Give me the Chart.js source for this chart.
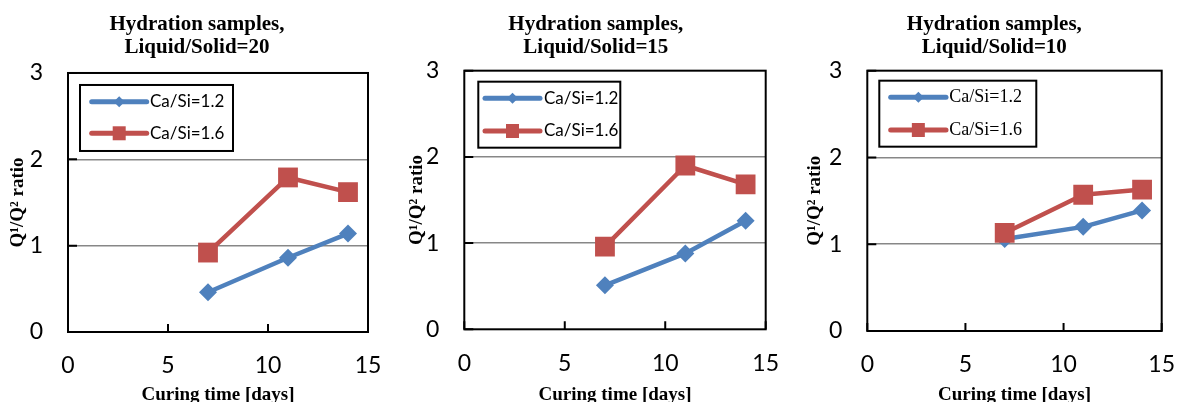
<!DOCTYPE html>
<html>
<head>
<meta charset="utf-8">
<script src="https://cdn.jsdelivr.net/npm/chart.js@4"></script>
<style>
  html, body { margin: 0; padding: 0; background: #fff; }
  body { width: 1177px; height: 402px; position: relative; overflow: hidden; }
  .panel { position: absolute; top: 0; height: 402px; }
</style>
</head>
<body>
<div class="panel" style="left:0px;width:390px"><canvas id="c20" width="390" height="402"></canvas></div>
<div class="panel" style="left:390px;width:398px"><canvas id="c15" width="398" height="402"></canvas></div>
<div class="panel" style="left:790px;width:387px"><canvas id="c10" width="387" height="402"></canvas></div>
<script>
// curing time (days) and Q1/Q2 ratio per liquid/solid ratio
const days = [7, 11, 14];
const ls20_ca12 = [0.46, 0.86, 1.14];
const ls20_ca16 = [0.92, 1.79, 1.62];
const ls15_ca12 = [0.51, 0.88, 1.26];
const ls15_ca16 = [0.96, 1.90, 1.68];
const ls10_ca12 = [1.06, 1.20, 1.39];
const ls10_ca16 = [1.13, 1.57, 1.63];
const seriesNames = ['Ca/Si=1.2', 'Ca/Si=1.6'];
const titleTop = 'Hydration samples,';
const xTitle = 'Curing time [days]';
const yTitle = 'Q\u00b9/Q\u00b2 ratio';

const blue = '#4F81BD', red = '#C0504D';
const serif = "'Liberation Serif', 'Times New Roman', serif";
const sans = "Lato, 'Noto Sans', sans-serif";

Chart.defaults.color = '#000';

function pts(ys) {
  return days.map((d, i) => ({x: d, y: ys[i]}));
}

// black plot frame + small inward tick marks
const framePlugin = {
  id: 'frame',
  beforeDatasetsDraw(chart) {
    const {ctx, chartArea: a, scales: {x, y}} = chart;
    ctx.save();
    ctx.strokeStyle = '#000';
    ctx.lineWidth = 2;
    ctx.strokeRect(a.left, a.top, a.right - a.left, a.bottom - a.top);
    ctx.beginPath();
    y.ticks.forEach(t => {
      const py = y.getPixelForValue(t.value);
      ctx.moveTo(a.left, py); ctx.lineTo(a.left + 9, py);
    });
    x.ticks.forEach(t => {
      const px = x.getPixelForValue(t.value);
      ctx.moveTo(px, a.bottom); ctx.lineTo(px, a.bottom - 8);
    });
    ctx.stroke();
    ctx.restore();
  }
};

// boxed legend like the excel one: line with marker in the middle
const boxLegend = {
  id: 'boxLegend',
  afterDatasetsDraw(chart, args, o) {
    const {ctx, chartArea: a} = chart;
    ctx.save();
    ctx.fillStyle = '#fff';
    ctx.fillRect(a.left + o.left, a.top + o.top, o.width, o.height);
    ctx.strokeStyle = '#000';
    ctx.lineWidth = 2;
    ctx.strokeRect(a.left + o.left, a.top + o.top, o.width, o.height);
    chart.data.datasets.forEach((ds, i) => {
      const ly = a.top + o.rows[i];
      const x0 = a.left + o.lineFrom, x1 = a.left + o.lineTo, mx = (x0 + x1) / 2;
      ctx.strokeStyle = ds.borderColor;
      ctx.lineWidth = 5;
      ctx.lineCap = 'round';
      ctx.beginPath(); ctx.moveTo(x0, ly); ctx.lineTo(x1, ly); ctx.stroke();
      ctx.fillStyle = ds.borderColor;
      ctx.beginPath();
      if (ds.pointStyle === 'rect') {
        ctx.rect(mx - 6.5, ly - 7, 13, 14);
      } else {
        ctx.moveTo(mx, ly - 5.5); ctx.lineTo(mx + 5.5, ly);
        ctx.lineTo(mx, ly + 5.5); ctx.lineTo(mx - 5.5, ly);
        ctx.closePath();
      }
      ctx.fill();
      ctx.fillStyle = '#000';
      ctx.font = o.font;
      ctx.textBaseline = 'middle';
      ctx.fillText(ds.label, a.left + o.textX, ly);
    });
    ctx.restore();
  }
};

const panels = [
  {id: 'c20', ratio: 'Liquid/Solid=20', s12: ls20_ca12, s16: ls20_ca16,
   pad: {left: 26, right: 22}, yW: 42, xH: 70, tBottom: 14, yPad: -19.4,
   legend: {left: 12, top: 12, width: 153, height: 66, rows: [28.7, 60.3], lineFrom: 23.7, lineTo: 78.7, textX: 82, font: '17px ' + sans}},
  {id: 'c15', ratio: 'Liquid/Solid=15', s12: ls15_ca12, s16: ls15_ca16,
   pad: {left: 36, right: 22.3}, yW: 38.3, xH: 72.7, tBottom: 11.7, yPad: -20.7,
   legend: {left: 14, top: 11, width: 142, height: 66, rows: [27.6, 60.3], lineFrom: 20.7, lineTo: 75.7, textX: 79.7, font: '17px ' + sans}},
  {id: 'c10', ratio: 'Liquid/Solid=10', s12: ls10_ca12, s16: ls10_ca16,
   pad: {left: 37, right: 15.3}, yW: 40.3, xH: 71, tBottom: 11.7, yPad: -23.4,
   legend: {left: 12, top: 10, width: 157, height: 66, rows: [26.6, 59.3], lineFrom: 23.4, lineTo: 78.7, textX: 82, font: '18px ' + serif}}
];

panels.forEach(p => {
  new Chart(document.getElementById(p.id), {
    type: 'line',
    data: {
      datasets: [
        {label: seriesNames[0], data: pts(p.s12), borderColor: blue, backgroundColor: blue,
         borderWidth: 4.5, pointStyle: 'rectRot', pointRadius: 9, pointBorderWidth: 0,
         borderCapStyle: 'round', borderJoinStyle: 'round', order: 1},
        {label: seriesNames[1], data: pts(p.s16), borderColor: red, backgroundColor: red,
         borderWidth: 4.5, pointStyle: 'rect', pointRadius: 14, pointBorderWidth: 0,
         borderCapStyle: 'round', borderJoinStyle: 'round', order: 0}
      ]
    },
    options: {
      responsive: false,
      animation: false,
      layout: {padding: {left: p.pad.left, right: p.pad.right, top: 0, bottom: 0}},
      plugins: {
        legend: {display: false},
        tooltip: {enabled: false},
        title: {
          display: true,
          text: [titleTop, p.ratio],
          color: '#000',
          font: {family: serif, size: 21, weight: 'bold', lineHeight: 1.09},
          padding: {top: 13.2, bottom: p.tBottom}
        },
        boxLegend: p.legend
      },
      scales: {
        x: {
          type: 'linear', min: 0, max: 15,
          ticks: {stepSize: 5, padding: 0, font: {family: sans, size: 23}, color: '#000'},
          grid: {color: 'transparent', tickLength: 20, tickColor: 'transparent'},
          border: {display: false},
          title: {display: true, text: xTitle, color: '#000',
                  font: {family: serif, size: 19, weight: 'bold'}, padding: {top: 0, bottom: -4}},
          afterFit: s => { s.height = p.xH; }
        },
        y: {
          min: 0, max: 3,
          ticks: {stepSize: 1, padding: 0, font: {family: sans, size: 23}, color: '#000'},
          grid: {color: c => (c.tick.value > 0 && c.tick.value < 3) ? '#878787' : 'transparent',
                 lineWidth: 1.5, tickLength: 25, tickColor: 'transparent'},
          border: {display: false},
          title: {display: true, text: yTitle, color: '#000',
                  font: {family: serif, size: 19, weight: 'bold'}, padding: {top: p.yPad, bottom: 0}},
          afterFit: s => { s.width = p.yW; }
        }
      }
    },
    plugins: [framePlugin, boxLegend]
  });
});
</script>
</body>
</html>
